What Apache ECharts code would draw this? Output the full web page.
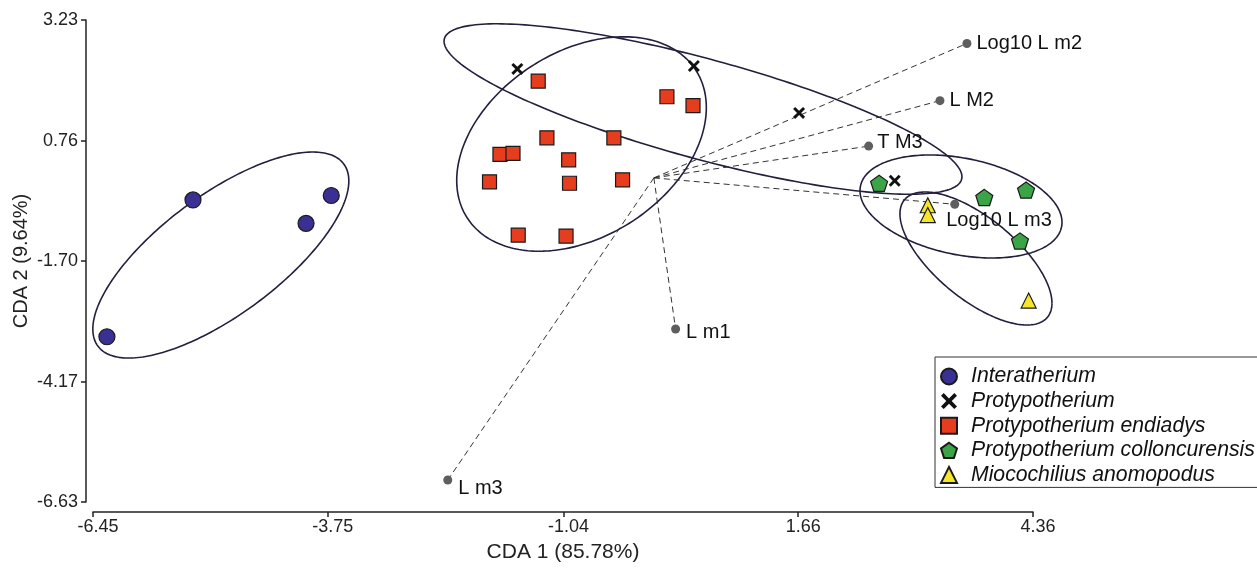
<!DOCTYPE html>
<html><head><meta charset="utf-8">
<script src="https://cdn.jsdelivr.net/npm/echarts@6/dist/echarts.min.js"></script>
<style>html,body{margin:0;padding:0;background:#fff}#c{width:1257px;height:570px}</style>
</head><body><div id="c"></div>
<script>
// ---- tick labels ----
const xTicks = [-6.45, -3.75, -1.04, 1.66, 4.36];
const yTicks = [-6.63, -4.17, -1.70, 0.76, 3.23];

// ---- group scores (CDA 1, CDA 2) ----
const groupNames = ['Interatherium', 'Protypotherium', 'Protypotherium endiadys', 'Protypotherium colloncurensis', 'Miocochilius anomopodus'];
const interatheriumX = [-5.30, -4.00, -3.71, -6.29];
const interatheriumY = [-0.45, -0.93, -0.36, -3.25];
const protypotheriumX = [-1.57, 0.46, 1.67, 2.77];
const protypotheriumY = [2.23, 2.29, 1.33, -0.06];
const endiadysX = [-1.33, 0.15, 0.45, -1.23, -0.46, -1.77, -1.62, -0.98, -1.89, -0.97, -0.36, -1.56, -1.01];
const endiadysY = [1.98, 1.66, 1.48, 0.82, 0.82, 0.48, 0.50, 0.37, -0.08, -0.11, -0.04, -1.17, -1.19];
const colloncurensisX = [2.59, 3.80, 4.28, 4.21];
const colloncurensisY = [-0.11, -0.40, -0.25, -1.29];
const miocochiliusX = [3.15, 3.15, 4.31];
const miocochiliusY = [-0.56, -0.76, -2.51];

// ---- variable vectors ----
const vectorNames = ['Log10 L m2', 'L M2', 'T M3', 'Log10 L m3', 'L m1', 'L m3'];
const vectorX = [3.60, 3.29, 2.47, 3.46, 0.25, -2.37];
const vectorY = [2.75, 1.58, 0.65, -0.54, -3.09, -6.18];

// ---- group ellipses: centre and spread (xx, yy, xy), order as groupNames ----
const ellipseCX = [-4.98, 0.565, -0.832, 3.532, 3.704];
const ellipseCY = [-1.578, 1.409, 0.693, -0.585, -1.649];
const ellipseSXX = [2.167, 8.868, 2.060, 1.349, 0.764];
const ellipseSYY = [4.440, 3.039, 4.810, 1.110, 1.851];
const ellipseSXY = [2.230, -4.126, 1.070, -0.376, -0.798];

// label offsets (style)
const vectorLabelOffset = [[0, 0], [0, 0], [-1, -4], [-18, 16], [1, 4], [1, 8]];

const FONT = 'Liberation Sans, Arial, Helvetica, sans-serif';
const pts = (xs, ys) => xs.map((x, i) => [x, ys[i]]);
const pentagon = 'path://M0,-1L0.951,-0.309L0.588,0.809L-0.588,0.809L-0.951,-0.309Z';
const cross = 'path://M0,1.7L1.7,0L5,3.3L8.3,0L10,1.7L6.7,5L10,8.3L8.3,10L5,6.7L1.7,10L0,8.3L3.3,5Z';
const border = {borderColor: '#1a1a1a', borderWidth: 1.2, opacity: 1};

const chart = echarts.init(document.getElementById('c'), null, {renderer: 'canvas'});
chart.setOption({
  backgroundColor: '#fff',
  animation: false,
  textStyle: {fontFamily: FONT},
  grid: {left: 93, right: 224, top: 20, bottom: 68, containLabel: false, outerBoundsMode: 'none'},
  xAxis: {
    type: 'value', min: -6.45, max: 4.36, offset: 10,
    axisLine: {onZero: false, lineStyle: {color: '#222', width: 1.5}},
    axisTick: {customValues: xTicks, length: 5, lineStyle: {color: '#222', width: 1.5}},
    axisLabel: {customValues: xTicks, formatter: v => v.toFixed(2), fontSize: 18, color: '#222', margin: 6,
      padding: [0, 0, 0, 10]},
    splitLine: {show: false},
    name: 'CDA 1 (85.78%)', nameLocation: 'middle', nameGap: 30, nameMoveOverlap: false,
    nameTextStyle: {fontSize: 21, color: '#222'}
  },
  yAxis: {
    type: 'value', min: -6.63, max: 3.23, offset: 7,
    axisLine: {onZero: false, lineStyle: {color: '#222', width: 1.5}},
    axisTick: {customValues: yTicks, length: 5, lineStyle: {color: '#222', width: 1.5}},
    axisLabel: {customValues: yTicks, formatter: v => v.toFixed(2), fontSize: 18, color: '#222', margin: 8},
    splitLine: {show: false},
    name: 'CDA 2 (9.64%)', nameLocation: 'middle', nameGap: 55, nameMoveOverlap: false,
    nameTextStyle: {fontSize: 20, color: '#222'}
  },
  legend: {
    data: groupNames, orient: 'vertical', left: 935, top: 357,
    padding: [9, 40, 2, 5], itemGap: 3.6, itemWidth: 16, itemHeight: 16,
    borderColor: '#333', borderWidth: 1, backgroundColor: '#fff',
    textStyle: {fontSize: 21.2, fontStyle: 'italic', color: '#111', padding: [0, 0, 0, 9]}
  },
  series: [
    {
      type: 'custom', name: 'vectors', z: 1, silent: true,
      data: pts(vectorX, vectorY),
      encode: {x: 0, y: 1},
      renderItem: (params, api) => {
        const o = api.coord([0, 0]);
        const e = api.coord([api.value(0), api.value(1)]);
        return {type: 'line', shape: {x1: o[0], y1: o[1], x2: e[0], y2: e[1]},
          style: {stroke: '#333', lineWidth: 1, lineDash: [6, 4], fill: null}};
      }
    },
    {
      type: 'custom', name: 'ellipses', z: 2, silent: true,
      data: ellipseCX.map((c, i) => [c, ellipseCY[i], ellipseSXX[i], ellipseSYY[i], ellipseSXY[i]]),
      encode: {x: 0, y: 1},
      renderItem: (params, api) => {
        const cx = api.value(0), cy = api.value(1);
        const l11 = Math.sqrt(api.value(2));
        const l21 = api.value(4) / l11;
        const l22 = Math.sqrt(api.value(3) - l21 * l21);
        const p = [];
        for (let k = 0; k <= 240; k++) {
          const t = k / 240 * 2 * Math.PI;
          p.push(api.coord([cx + l11 * Math.cos(t), cy + l21 * Math.cos(t) + l22 * Math.sin(t)]));
        }
        return {type: 'polyline', shape: {points: p}, style: {stroke: '#231f3d', lineWidth: 1.6, fill: null}};
      }
    },
    {
      type: 'scatter', name: 'vectorTips', z: 3, symbolSize: 9,
      itemStyle: {color: '#5e5e5e', opacity: 1},
      data: vectorX.map((x, i) => ({value: [x, vectorY[i]], name: vectorNames[i],
        label: {offset: vectorLabelOffset[i]}})),
      label: {show: true, position: 'right', formatter: '{b}', fontSize: 20, color: '#111', distance: 5}
    },
    {type: 'scatter', name: groupNames[0], z: 4, symbol: 'circle', symbolSize: 16,
      itemStyle: Object.assign({color: '#3a2f92'}, border), data: pts(interatheriumX, interatheriumY)},
    {type: 'scatter', name: groupNames[1], z: 4, symbol: cross, symbolSize: 12,
      itemStyle: {color: '#111', opacity: 1}, data: pts(protypotheriumX, protypotheriumY)},
    {type: 'scatter', name: groupNames[2], z: 4, symbol: 'rect', symbolSize: 14,
      itemStyle: Object.assign({color: '#e63d1e'}, border), data: pts(endiadysX, endiadysY)},
    {type: 'scatter', name: groupNames[3], z: 4, symbol: pentagon, symbolKeepAspect: true, symbolSize: 17,
      itemStyle: Object.assign({color: '#3aa447'}, border), data: pts(colloncurensisX, colloncurensisY)},
    {type: 'scatter', name: groupNames[4], z: 4, symbol: 'triangle', symbolSize: 15,
      itemStyle: Object.assign({color: '#f6e62b'}, border), data: pts(miocochiliusX, miocochiliusY)}
  ]
});
</script></body></html>
